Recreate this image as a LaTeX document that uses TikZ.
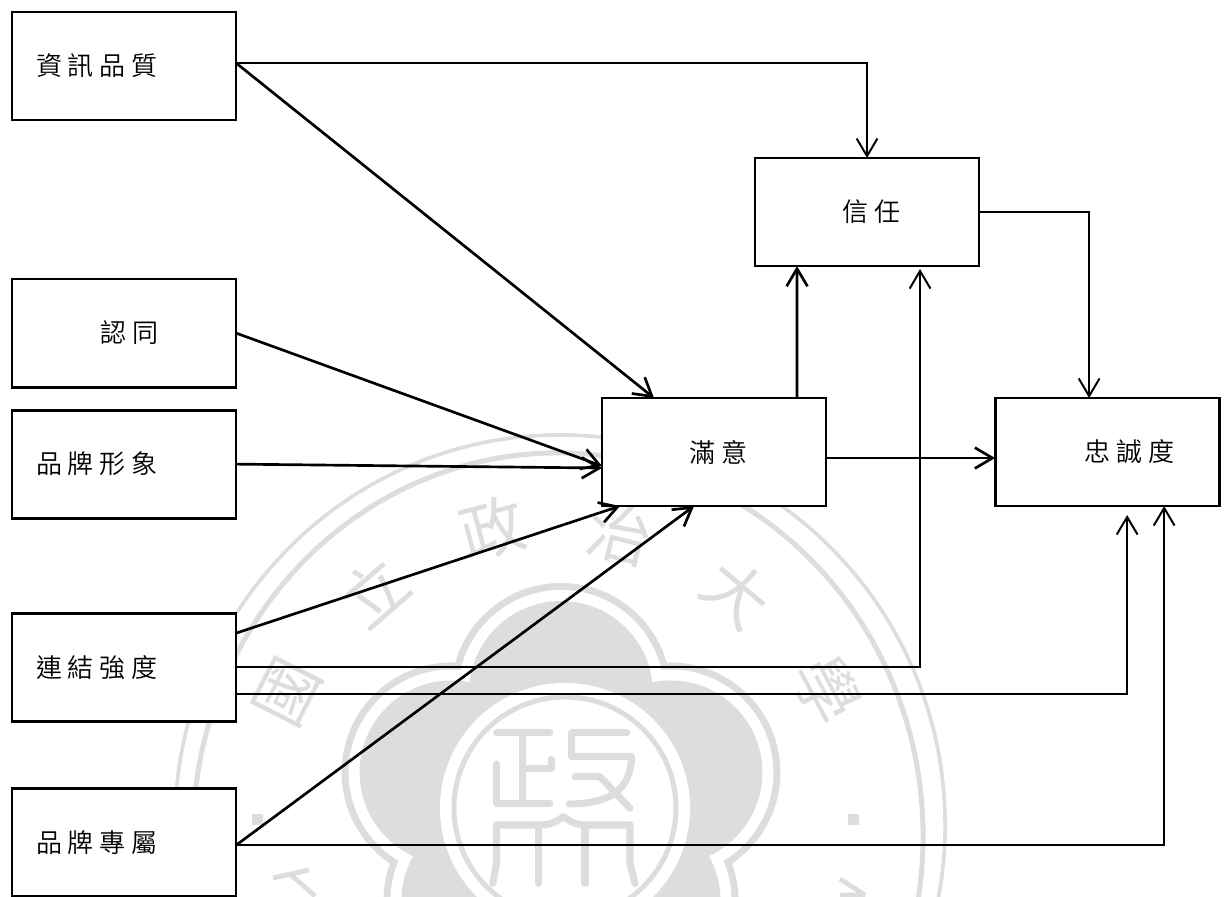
\documentclass[tikz,border=0pt]{standalone}
\usepackage{fontspec}
\newfontfamily\cjk[LetterSpace=23]{Noto Sans CJK TC DemiLight}
\newfontfamily\cjkmark{Noto Sans CJK TC}
\usetikzlibrary{arrows.meta, positioning}
\definecolor{sealgray}{HTML}{DCDEDE}

\begin{document}
\begin{tikzpicture}[
          x=0.025cm, y=-0.025cm,
          font=\cjk\fontsize{18.5}{22}\selectfont,
          box/.style={draw=black, fill=white, line width=2pt, outer sep=0pt,
                      minimum width=5.6cm, minimum height=2.7cm},
          leftbox/.style={box, inner xsep=0.6cm, text width=4.4cm, align=left},
          arr/.style={-{Straight Barb[length=4.4mm, width=5.2mm]}, line width=1.9pt},
          thinarr/.style={arr, line width=1.4pt},
          sealline/.style={draw=sealgray, line width=2.6pt},
          sealstroke/.style={draw=sealgray, line width=5pt, line cap=round, line join=round},
          sealchar/.style={font=\cjkmark\fontsize{46}{50}\selectfont, text=sealgray}
        ]
        \useasboundingbox (0,0) rectangle (1230,896);

        % watermark
        \draw[sealline] (560,825) ellipse[x radius=9.625cm, y radius=9.75cm];
        \draw[sealline, line width=3.6pt] (558,836) ellipse[x radius=9.125cm, y radius=9.575cm];
        \foreach \rad/\col in {110/sealgray, 103/white, 92/sealgray} {
          \foreach \ang in {90, 162, 234, 306, 18} {
            \fill[\col] (561,808) ++(\ang:2.875cm) circle[radius=\rad*0.025cm];
          }
        }
        \fill[sealgray] (561,808) circle[radius=3.5cm];
        \fill[white] (565,808) circle[radius=3.125cm];
        \draw[sealline, line width=3.6pt] (565,808) circle[radius=111*0.025cm];
        \begin{scope}[shift={(440,660)}, x=0.025cm/3, y=-0.025cm/3]
          \draw[sealstroke] (170,218) -- (330,218) (248,218) -- (248,430);
          \draw[sealstroke] (248,325) -- (335,325) -- (335,298);
          \draw[sealstroke] (170,312) -- (170,430) -- (330,430);
          \draw[sealstroke] (395,218) -- (560,218) (395,218) -- (395,290) -- (575,290)
            .. controls (570,400) and (500,430) .. (388,432);
          \draw[sealstroke] (405,350) -- (480,350) -- (570,445);
          \draw[sealstroke] (170,495) -- (300,495) .. controls (330,495) and (350,485) .. (370,470)
            .. controls (390,485) and (410,495) .. (440,495) -- (570,495);
          \draw[sealstroke] (170,495) -- (170,610) -- (158,670);
          \draw[sealstroke] (295,495) -- (295,670) (435,495) -- (435,670);
          \draw[sealstroke] (570,495) -- (570,610) -- (585,670);
        \end{scope}
        \node[sealchar, rotate=63] (markguo) at (288,692) {國};
        \node[sealchar, rotate=41] (markli) at (374,592) {立};
        \node[sealchar, rotate=15] (markzheng) at (492,528) {政};
        \node[sealchar, rotate=-14] (markzhi) at (620,533) {治};
        \node[sealchar, rotate=-40] (markda) at (737,593) {大};
        \node[sealchar, rotate=-62] (markxue) at (827,690) {學};
        \fill[sealgray] (252,814) rectangle (263,825) (848,814) rectangle (859,825);
        \draw[sealline, line width=3.4pt] (273,878) -- (309,870) (289,873) -- (315,896);
        \draw[sealline, line width=3.4pt] (840,879) -- (865,895) (840,895) -- (865,895);

        % boxes
        \node[leftbox, anchor=north west] (info) at (12,12) {資訊品質};
        \node[leftbox, below=3.975cm of info] (identity) {\hspace*{1.6cm}認同};
        \node[leftbox, below=0.575cm of identity] (image) {品牌形象};
        \node[leftbox, below=2.375cm of image] (tie) {連結強度};
        \node[leftbox, below=1.675cm of tie] (excl) {品牌專屬};
        \node[box, anchor=north west] (sat) at (602,398) {\hspace*{0.2cm}滿意};
        \node[box, right=4.225cm of sat] (loyal) {\hspace*{1.1cm}忠誠度};
        \node[box, anchor=north west] (trust) at (755,158) {\hspace*{0.2cm}信任};

        % connectors
        \draw[thinarr] ([yshift=0.075cm]info.east) -| (trust.north);
        \draw[arr] ([yshift=0.075cm]info.east) -- ([xshift=-1.5cm]sat.north);
        \draw[arr] (identity.east) -- ([yshift=-0.35cm]sat.west);
        \draw[arr] (image.east) -- ([yshift=-0.4cm]sat.west);
        \draw[arr] ([yshift=0.85cm]tie.east) -- ([xshift=-2.35cm]sat.south);
        \draw[arr] ([yshift=-0.075cm]excl.east) -- ([xshift=-0.5cm]sat.south);
        \draw[arr] ([xshift=2.075cm]sat.north) -- ([xshift=-1.75cm]trust.south);
        \draw[thinarr] (tie.east) -| ([xshift=1.325cm, yshift=-0.075cm]trust.south);
        \draw[thinarr] ([yshift=-0.675cm]tie.east) -| ([xshift=0.5cm, yshift=-0.225cm]loyal.south);
        \draw[thinarr] ([yshift=-0.075cm]excl.east) -| ([xshift=1.425cm]loyal.south);
        \draw[thinarr] (trust.east) -| ([xshift=-0.45cm]loyal.north);
        \draw[arr] ([yshift=-0.15cm]sat.east) -- ([yshift=-0.15cm]loyal.west);
      \end{tikzpicture}
\end{document}
